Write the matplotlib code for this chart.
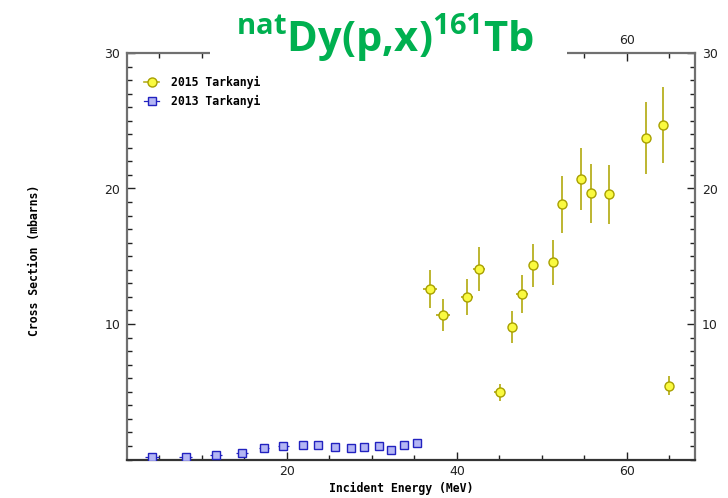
import matplotlib
matplotlib.use('Agg')
import matplotlib.pyplot as plt
from matplotlib.lines import Line2D
from matplotlib.patches import Rectangle
from matplotlib.ticker import MultipleLocator, FixedLocator

# 2015 Tarkanyi
e_2015 = [36.8, 38.35, 41.2, 42.6, 45.05, 46.5, 47.7, 48.9, 51.25, 52.4,
          54.6, 55.8, 57.9, 62.2, 64.2, 64.95]
cs_2015 = [12.58, 10.66, 11.99, 14.06, 4.95, 9.78, 12.19, 14.33, 14.55, 18.83,
           20.68, 19.64, 19.57, 23.7, 24.7, 5.45]
dcs_2015 = [1.4, 1.2, 1.3, 1.6, 0.6, 1.15, 1.4, 1.6, 1.65, 2.1,
            2.3, 2.2, 2.2, 2.65, 2.8, 0.7]
de_2015 = [0.8, 0.8, 0.7, 0.7, 0.65, 0.55, 0.7, 0.4, 0.4, 0.3,
           0.3, 0.3, 0.3, 0.3, 0.3, 0.3]

# 2013 Tarkanyi
e_2013 = [4.15, 8.1, 11.7, 14.7, 17.3, 19.6, 21.85, 23.7, 25.65, 27.5,
          29.1, 30.8, 32.3, 33.8, 35.3]
cs_2013 = [0.2, 0.16, 0.31, 0.48, 0.83, 0.97, 1.05, 1.05, 0.9, 0.87,
           0.9, 0.97, 0.68, 1.05, 1.2]
de_2013 = [0.85, 0.8, 0.7, 0.7, 0.6, 0.7, 0.4, 0.4, 0.3, 0.3,
           0.3, 0.3, 0.3, 0.3, 0.3]

yellow_face = '#fafa40'
yellow_edge = '#a8a000'
yellow_bar = '#b8b020'
blue_face = '#b4b6f4'
blue_edge = '#2222c0'

mono = {'family': 'DejaVu Sans Mono', 'weight': 'bold', 'size': 8.3}

fig = plt.figure(figsize=(7.28, 4.98), dpi=100)
ax = fig.add_axes([127/728, 38.5/498, 568/728, 406.5/498])

ax.errorbar(e_2013, cs_2013, xerr=de_2013, fmt='s', ms=5.3, mfc=blue_face,
            mec=blue_edge, mew=1.0, ecolor=blue_edge, elinewidth=0.9, capsize=0, zorder=3)
ax.errorbar(e_2015, cs_2015, yerr=dcs_2015, xerr=de_2015, fmt='o', ms=6.5,
            mfc=yellow_face, mec=yellow_edge, mew=1.0, ecolor=yellow_bar,
            elinewidth=1.3, capsize=0, zorder=3)

ax.set_xlim(1.2, 68.0)
ax.set_ylim(0, 30)
ax.xaxis.set_major_locator(FixedLocator([20, 40, 60]))
ax.xaxis.set_minor_locator(MultipleLocator(5))
ax.yaxis.set_major_locator(FixedLocator([10, 20, 30]))
ax.yaxis.set_minor_locator(MultipleLocator(1))

ax.tick_params(which='both', direction='in', top=True, right=True,
               labeltop=True, labelright=True, colors='#222222', labelsize=9)
ax.tick_params(which='major', length=6, width=1.0, pad=5)
ax.tick_params(which='minor', length=3.5, width=1.0)
ax.tick_params(axis='x', which='major', pad=4)

# top labels at 20 and 40 sit under the title
for t in ax.xaxis.get_major_ticks()[:2]:
    t.label2.set_visible(False)

for s in ax.spines.values():
    s.set_color('#707070')
    s.set_linewidth(1.6)
ax.spines['bottom'].set_color('#333333')

ax.set_xlabel('Incident Energy (MeV)', fontdict=mono)
ax.xaxis.set_label_coords(0.483, -0.055)
ax.set_ylabel('Cross Section (mbarns)', fontdict=mono)
ax.yaxis.set_label_coords(-0.152, 0.49)

handles = [
    Line2D([], [], marker='o', ms=6.5, mfc=yellow_face, mec=yellow_edge,
           color=yellow_bar, lw=1.2),
    Line2D([], [], marker='s', ms=5.3, mfc=blue_face, mec=blue_edge,
           color=blue_edge, lw=0.9),
]
leg = ax.legend(handles, ['2015 Tarkanyi', '2013 Tarkanyi'], loc='upper left',
                bbox_to_anchor=(0.012, 0.97), frameon=False, handlelength=1.3,
                handletextpad=1.0, labelspacing=0.55, prop=mono)

# white band hiding the top axis under the title
fig.patches.append(Rectangle((210/728, 436/498), 357/728, 40/498,
                             transform=fig.transFigure, facecolor='white',
                             edgecolor='none', zorder=5))
fig.text(0.529, 0.922, r'$\mathregular{^{nat}Dy(p{,}x)^{161}Tb}$', color='#00b050',
         fontsize=30, fontweight='bold', family='Open Sans',
         ha='center', va='center', zorder=6)

fig.savefig('out.png', dpi=100)
